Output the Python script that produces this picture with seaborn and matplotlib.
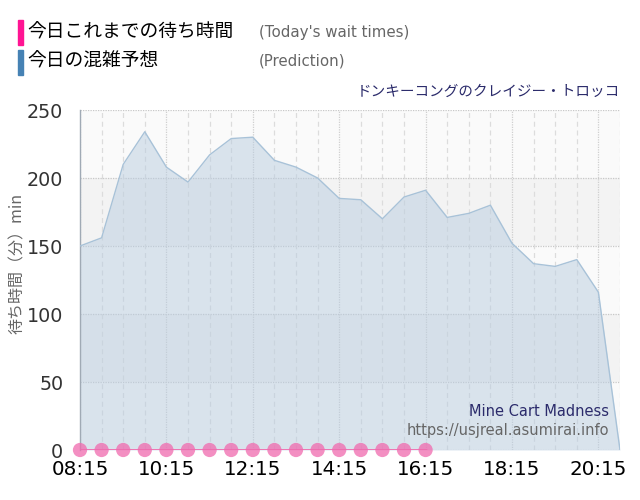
import matplotlib
matplotlib.use("Agg")
import matplotlib.pyplot as plt
import seaborn as sns
import pandas as pd
import numpy as np
from matplotlib.patches import Rectangle

# ---- data ----
pred_times = ["08:15", "08:45", "09:15", "09:45", "10:15", "10:45", "11:15", "11:45",
              "12:15", "12:45", "13:15", "13:45", "14:15", "14:45", "15:15", "15:45",
              "16:15", "16:45", "17:15", "17:45", "18:15", "18:45", "19:15", "19:45",
              "20:15", "20:45"]
pred_values = [150, 156, 210, 234, 208, 197, 217, 229,
               230, 213, 208, 200, 185, 184, 170, 186,
               191, 171, 174, 180, 152, 137, 135, 140,
               116, 0]
actual_times = ["08:15", "08:45", "09:15", "09:45", "10:15", "10:45", "11:15", "11:45",
                "12:15", "12:45", "13:15", "13:45", "14:15", "14:45", "15:15", "15:45",
                "16:15"]
actual_values = [0] * 17
x_tick_labels = ["08:15", "10:15", "12:15", "14:15", "16:15", "18:15", "20:15"]
y_ticks = [0, 50, 100, 150, 200, 250]


def to_h(t):
    h, m = t.split(":")
    return int(h) + int(m) / 60


pred_df = pd.DataFrame({"t": [to_h(t) for t in pred_times], "v": pred_values})
act_df = pd.DataFrame({"t": [to_h(t) for t in actual_times], "v": actual_values})

sns.set_style("white")
plt.rcParams["font.family"] = ["DejaVu Sans", "Noto Sans CJK JP"]
JP = ["Noto Sans CJK JP", "DejaVu Sans"]

fig = plt.figure(figsize=(6.4, 5.0), dpi=100)
ax = fig.add_axes([80 / 640, 1 - 450 / 500, 540 / 640, 340 / 500])

x0, x1 = to_h("08:15"), to_h("20:45")
ax.set_xlim(x0, x1)
ax.set_ylim(0, 250)

# alternating bands
for lo, col in [(0, "#fafafa"), (50, "#f3f3f3"), (100, "#fafafa"), (150, "#f3f3f3"), (200, "#fafafa")]:
    ax.axhspan(lo, lo + 50, color=col, zorder=0, lw=0)

# grid
for y in y_ticks:
    ax.axhline(y, color="#c8c8c8", lw=0.9, ls=(0, (1, 1)), zorder=1)
half = np.arange(x0, x1 + 0.01, 0.5)
for xv in half:
    if abs(((xv - x0) % 2)) < 1e-6:
        ax.axvline(xv, color="#cfcfcf", lw=0.9, ls=(0, (1, 1)), zorder=1)
    else:
        ax.axvline(xv, color="#dcdcdc", lw=0.9, ls=(0, (4, 3)), zorder=1)

# prediction area
ax.fill_between(pred_df["t"], pred_df["v"], 0, color="#b9cde0", alpha=0.5, lw=0, zorder=2)
sns.lineplot(data=pred_df, x="t", y="v", ax=ax, color="#a8c2d8", lw=1.0, zorder=3)

# actual
sns.lineplot(data=act_df, x="t", y="v", ax=ax, color="#f06aae", lw=2.0, zorder=4)
ax.scatter(act_df["t"], act_df["v"], s=105, color="#f06aae", alpha=0.75,
           edgecolor="none", zorder=5, clip_on=False)

ax.set_xticks([to_h(t) for t in x_tick_labels])
ax.set_xticklabels(x_tick_labels, fontsize=14.3, color="black")
ax.set_yticks(y_ticks)
ax.set_yticklabels([str(v) for v in y_ticks], fontsize=13.8, color="#333333")
ax.tick_params(axis="x", length=0, pad=7)
ax.tick_params(axis="y", length=10, color="#e0e0e0", pad=2)
ax.set_xlabel("")
ax.set_ylabel("")
for s in ["top", "right", "bottom"]:
    ax.spines[s].set_visible(False)
ax.spines["left"].set_color("#a0aab5")
ax.spines["left"].set_linewidth(1.0)

# y label
fig.text(17 / 640, 1 - 263 / 500, "待ち時間（分）min", rotation=90, ha="center", va="center",
         fontsize=11.5, color="#666666", family=JP)

# title
fig.text(620 / 640, 1 - 92 / 500, "ドンキーコングのクレイジー・トロッコ", ha="right", va="center",
         fontsize=10.5, color="#2b2b6b", family=JP)

# watermark
ax.text(609 / 640, 1 - 411 / 500, "Mine Cart Madness", transform=fig.transFigure,
        ha="right", va="center", fontsize=10.5, color="#2b2b6b", zorder=6)
ax.text(609 / 640, 1 - 431 / 500, "https://usjreal.asumirai.info", transform=fig.transFigure,
        ha="right", va="center", fontsize=10.5, color="#666666", zorder=6)

# legend
fig.patches.append(Rectangle((18 / 640, 1 - 45 / 500), 5 / 640, 25 / 500,
                             transform=fig.transFigure, color="#ff1493"))
fig.patches.append(Rectangle((18 / 640, 1 - 75 / 500), 5 / 640, 25 / 500,
                             transform=fig.transFigure, color="#4682b4"))
fig.text(27 / 640, 1 - 32 / 500, "今日これまでの待ち時間", ha="left", va="center",
         fontsize=13.5, color="black", family=JP)
fig.text(259 / 640, 1 - 32 / 500, "(Today's wait times)", ha="left", va="center",
         fontsize=10.8, color="#666666")
fig.text(27 / 640, 1 - 61 / 500, "今日の混雑予想", ha="left", va="center",
         fontsize=13.5, color="black", family=JP)
fig.text(259 / 640, 1 - 61 / 500, "(Prediction)", ha="left", va="center",
         fontsize=10.8, color="#666666")

fig.savefig("out.png", dpi=100)
